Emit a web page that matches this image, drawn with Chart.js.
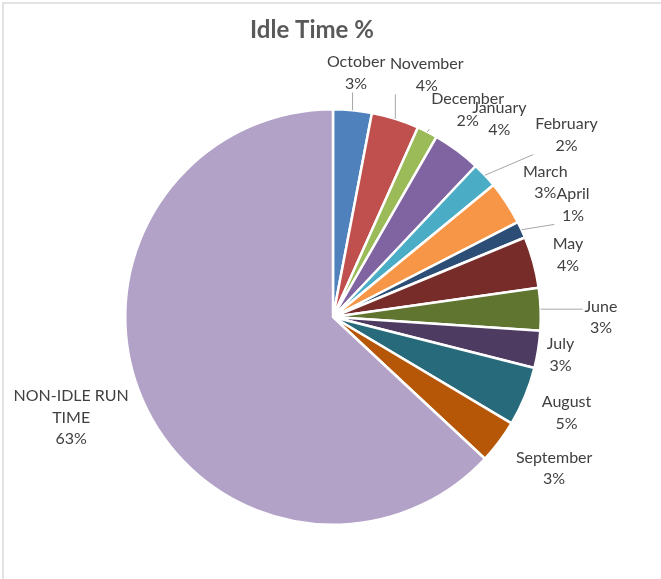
<html lang="en">
<head>
    <meta charset="UTF-8">
    <title>Idle Time %</title>
    <script src="https://cdn.jsdelivr.net/npm/chart.js"></script>
    <style>
        body { margin: 0; background: #fff; }
        #wrap { position: relative; width: 661px; height: 579px; overflow: hidden; }
        #frame { position: absolute; left: 2px; top: 2px; width: 700px; height: 600px;
                 border-top: 2px solid #e3e3e3; border-left: 2px solid #e3e3e3; }
        canvas { position: absolute; left: 0; top: 0; }
    </style>
</head>
<body>
    <div id="wrap">
        <div id="frame"></div>
        <canvas id="idle-chart" width="661" height="579"></canvas>
    </div>

    <script>
        // Chart data
        const titleText = 'Idle Time %';
        const categories = ['October', 'November', 'December', 'January', 'February', 'March',
                            'April', 'May', 'June', 'July', 'August', 'September', 'NON-IDLE RUN TIME'];
        const idleShare = [3.0, 3.7, 1.6, 3.75, 2.0, 3.4, 1.3, 4.0, 3.3, 2.9, 4.6, 3.4, 63.05];
        const sliceColors = ['#4F81BD', '#C0504D', '#9BBB59', '#8064A2', '#4BACC6', '#F79646',
                             '#2C4D75', '#772C2A', '#5F7530', '#4D3B62', '#276A7C', '#B65708', '#B3A2C7'];

        // Label layout (relative to each slice's middle angle / radius)
        const labelNudgeDeg = [0, 3.7, 6, 3.4, 5.1, 0.9, -0.2, 0.5, 2.2, 0.4, -0.2, -2.5, 2.5];
        const labelRadius = [1.18, 1.25, 1.19, 1.245, 1.425, 1.21, 1.275, 1.17, 1.29, 1.11, 1.215, 1.29, 1.35];
        const hasLeader = [true, true, true, false, true, false, true, false, true, false, false, false, false];

        const labelFont = '16px Lato, "Open Sans", sans-serif';
        const lineH = 21.5;

        function wrapText(ctx, text, maxW) {
            const words = text.split(' ');
            const lines = [];
            let cur = '';
            words.forEach(w => {
                const test = cur ? cur + ' ' + w : w;
                if (cur && ctx.measureText(test).width > maxW) {
                    lines.push(cur);
                    cur = w;
                } else {
                    cur = test;
                }
            });
            if (cur) lines.push(cur);
            return lines;
        }

        const titlePlugin = {
            id: 'excelTitle',
            afterDraw(chart) {
                const ctx = chart.ctx;
                ctx.save();
                ctx.font = 'bold 24px Lato, "Open Sans", sans-serif';
                ctx.fillStyle = '#595959';
                ctx.textAlign = 'center';
                ctx.textBaseline = 'middle';
                ctx.fillText(titleText, 312, 30);
                ctx.restore();
            }
        };

        const labelPlugin = {
            id: 'sliceLabels',
            afterDatasetsDraw(chart) {
                const ctx = chart.ctx;
                const meta = chart.getDatasetMeta(0);
                const values = chart.data.datasets[0].data;
                const total = values.reduce((a, b) => a + b, 0);
                ctx.save();
                ctx.font = labelFont;
                meta.data.forEach((arc, i) => {
                    const mid = (arc.startAngle + arc.endAngle) / 2;
                    const a = mid + labelNudgeDeg[i] * Math.PI / 180;
                    const R = arc.outerRadius * labelRadius[i];
                    const cx = arc.x + Math.cos(a) * R;
                    const cy = arc.y + Math.sin(a) * R;
                    const lines = wrapText(ctx, chart.data.labels[i], 130);
                    lines.push(Math.round(values[i] / total * 100) + '%');
                    const w = Math.max(...lines.map(l => ctx.measureText(l).width));
                    const h = lines.length * lineH;

                    if (hasLeader[i]) {
                        const px = arc.x + Math.cos(mid) * arc.outerRadius;
                        const py = arc.y + Math.sin(mid) * arc.outerRadius;
                        const left = cx - w / 2 - 2, right = cx + w / 2 + 2;
                        const top = cy - h / 2, bottom = cy + h / 2 - 2;
                        const qx = Math.min(Math.max(px, left), right);
                        const qy = Math.min(Math.max(py, top), bottom);
                        ctx.strokeStyle = '#A6A6A6';
                        ctx.lineWidth = 1;
                        ctx.beginPath();
                        ctx.moveTo(px, py);
                        ctx.lineTo(qx, qy);
                        ctx.stroke();
                    }

                    ctx.fillStyle = '#404040';
                    ctx.textAlign = 'center';
                    ctx.textBaseline = 'middle';
                    lines.forEach((l, k) => {
                        ctx.fillText(l, cx, cy - h / 2 + lineH * (k + 0.5));
                    });
                });
                ctx.restore();
            }
        };

        new Chart(document.getElementById('idle-chart'), {
            type: 'pie',
            data: {
                labels: categories,
                datasets: [{
                    data: idleShare,
                    backgroundColor: sliceColors,
                    borderColor: '#ffffff',
                    borderWidth: 2.5
                }]
            },
            options: {
                responsive: false,
                animation: false,
                layout: { padding: { left: 124, right: 119, top: 108, bottom: 53 } },
                plugins: {
                    legend: { display: false },
                    tooltip: { enabled: false }
                }
            },
            plugins: [titlePlugin, labelPlugin]
        });
    </script>
</body>
</html>
